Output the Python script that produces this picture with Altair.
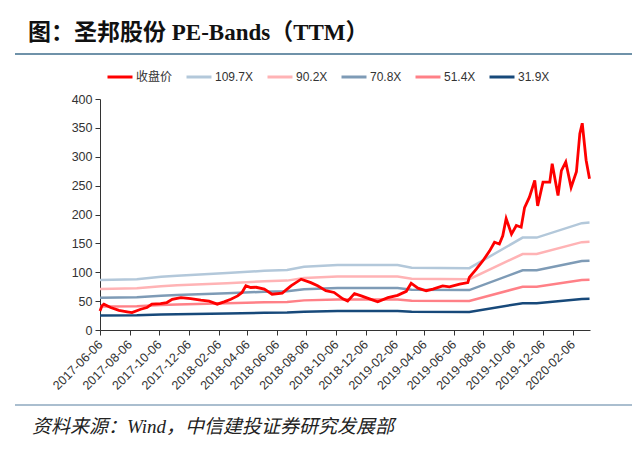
import altair as alt
import pandas as pd

# ---- data ----
price_dates = [
    "2017-06-06", "2017-06-10", "2017-06-14", "2017-06-28", "2017-07-15", "2017-08-01",
    "2017-08-11", "2017-08-29", "2017-09-11", "2017-09-21", "2017-10-09", "2017-10-22",
    "2017-11-02", "2017-11-20", "2017-12-10", "2017-12-31", "2018-01-17", "2018-02-03",
    "2018-02-17", "2018-03-03", "2018-03-17", "2018-03-26", "2018-04-03", "2018-04-13",
    "2018-04-24", "2018-05-11", "2018-05-27", "2018-06-17", "2018-07-05", "2018-07-26",
    "2018-08-15", "2018-08-29", "2018-09-15", "2018-10-02", "2018-10-20", "2018-10-30",
    "2018-11-13", "2018-11-27", "2018-12-17", "2018-12-31", "2019-01-21", "2019-02-10",
    "2019-02-28", "2019-03-10", "2019-03-24", "2019-04-10", "2019-04-24", "2019-05-14",
    "2019-05-28", "2019-06-18", "2019-07-05", "2019-07-08", "2019-07-22", "2019-08-05",
    "2019-08-19", "2019-08-29", "2019-09-08", "2019-09-15", "2019-09-22", "2019-10-03",
    "2019-10-13", "2019-10-23", "2019-10-30", "2019-11-09", "2019-11-20", "2019-11-26",
    "2019-12-07", "2019-12-21", "2019-12-26", "2020-01-07", "2020-01-14", "2020-01-23",
    "2020-02-03", "2020-02-14", "2020-02-21", "2020-02-26", "2020-03-05", "2020-03-12",
]
price_values = [
    33, 42, 44.7, 39, 34, 31.5,
    30, 36, 39, 44.7, 45.8, 47.5,
    53, 56, 54.5, 51.6, 50, 44.7,
    48.7, 53.3, 59, 65, 76.5, 73.6,
    74, 70.7, 62, 64, 76.5, 88,
    82, 76.5, 68, 65, 54, 50,
    63, 59, 53, 49, 56, 60,
    67, 81, 72.5, 68, 70.7, 76.5,
    74.8, 79.5, 82, 91, 105, 120,
    137, 152, 149, 163, 193, 166,
    181, 178, 212, 230, 259, 215,
    256, 256, 288, 233, 276, 291,
    247, 274, 340, 358, 294, 262,
]

band_dates = [
    "2017-06-06", "2017-08-21", "2017-10-10", "2017-11-12", "2018-02-23", "2018-05-11",
    "2018-06-27", "2018-08-01", "2018-10-09", "2019-02-10", "2019-03-11", "2019-07-08",
    "2019-10-26", "2019-11-24", "2020-02-25", "2020-03-12",
]
band_1097 = [86.5, 88, 92, 94, 98.5, 102.5, 104, 109.5, 112.5, 112.5, 108, 107, 160, 160, 185, 186]
band_902 = [71.1, 72.4, 75.6, 77.3, 81.0, 84.3, 85.5, 90.0, 92.5, 92.5, 88.8, 88.0, 131.6, 131.6, 152.1, 152.9]
band_708 = [55.8, 56.8, 59.4, 60.7, 63.6, 66.2, 67.1, 70.7, 72.6, 72.6, 69.7, 69.1, 103.3, 103.3, 119.4, 120.0]
band_514 = [40.5, 41.2, 43.1, 44.0, 46.2, 48.0, 48.7, 51.3, 52.7, 52.7, 50.6, 50.1, 75.0, 75.0, 86.7, 87.2]
band_319 = [25.2, 25.6, 26.8, 27.3, 28.6, 29.8, 30.2, 31.8, 32.7, 32.7, 31.4, 31.1, 46.5, 46.5, 53.8, 54.1]

series_names = ["收盘价", "109.7X", "90.2X", "70.8X", "51.4X", "31.9X"]
series_colors = ["#FF0000", "#B3C8DA", "#FFB3B5", "#7E9BB6", "#FF8087", "#17497A"]

tick_dates = [
    (2017, 6), (2017, 8), (2017, 10), (2017, 12), (2018, 2), (2018, 4), (2018, 6),
    (2018, 8), (2018, 10), (2018, 12), (2019, 2), (2019, 4), (2019, 6), (2019, 8),
    (2019, 10), (2019, 12), (2020, 2),
]

title_text = "图：圣邦股份 PE-Bands（TTM）"
source_text = "资料来源：Wind，中信建投证券研究发展部"

# ---- tables ----
price_df = pd.DataFrame({"date": price_dates, "value": price_values, "series": "收盘价"})
band_frames = []
for name, vals in zip(series_names[1:], [band_1097, band_902, band_708, band_514, band_319]):
    band_frames.append(pd.DataFrame({"date": band_dates, "value": vals, "series": name}))
band_df = pd.concat(band_frames, ignore_index=True)

FONT = "Liberation Sans, Arial, Noto Sans CJK SC"

x_enc = alt.X(
    "date:T",
    scale=alt.Scale(
        type="utc",
        domain=[alt.DateTime(year=2017, month=6, date=6, utc=True),
                alt.DateTime(year=2020, month=3, date=13, utc=True)],
    ),
    axis=alt.Axis(
        title=None,
        values=[alt.DateTime(year=y, month=m, date=6, utc=True) for y, m in tick_dates],
        labelExpr="utcFormat(datum.value, '%Y-%m-%d')",
        labelAngle=-45,
        labelAlign="right",
        labelBaseline="middle",
        labelPadding=7,
        labelFontSize=12.5,
        labelOverlap=False,
        labelFlush=False,
        labelBound=False,
        tickSize=5,
        grid=False,
    ),
)
y_enc = alt.Y(
    "value:Q",
    scale=alt.Scale(domain=[0, 400], nice=False),
    axis=alt.Axis(title=None, values=list(range(0, 401, 50)), tickSize=5,
                  labelPadding=3, labelFontSize=12.5, grid=False),
)
color_enc = alt.Color(
    "series:N",
    scale=alt.Scale(domain=series_names, range=series_colors),
    sort=series_names,
    legend=alt.Legend(
        title=None,
        orient="none",
        direction="horizontal",
        legendX=6,
        legendY=-36,
        symbolType="stroke",
        symbolSize=625,
        symbolStrokeWidth=3,
        labelOffset=2,
        columnPadding=7,
        labelFontSize=12,
        labelFont=FONT,
        labelColor="#333333",
    ),
)

bands = alt.Chart(band_df).mark_line(strokeWidth=2.5).encode(
    x=x_enc, y=y_enc, color=color_enc, detail="series:N"
)
price = alt.Chart(price_df).mark_line(strokeWidth=2.8).encode(
    x=x_enc, y=y_enc, color=color_enc
)

title = alt.Chart(pd.DataFrame({"t": [title_text]})).mark_text(
    align="left", baseline="middle", fontSize=23, fontWeight="bold",
    font="Liberation Serif, Noto Sans CJK SC", color="#111111",
).encode(x=alt.value(-72), y=alt.value(-66), text="t:N")

source = alt.Chart(pd.DataFrame({"t": [source_text]})).mark_text(
    align="left", baseline="middle", fontSize=19, fontStyle="italic",
    font="Liberation Serif, Noto Sans CJK SC", color="#222222",
).encode(x=alt.value(-68), y=alt.value(328), text="t:N")

top_rule = alt.Chart(pd.DataFrame({"a": [0]})).mark_rule(
    color="#3F6E8C", strokeWidth=1.5
).encode(x=alt.value(-85), x2=alt.value(540), y=alt.value(-45))

bottom_rule = alt.Chart(pd.DataFrame({"a": [0]})).mark_rule(
    color="#8EA9BF", strokeWidth=1.5
).encode(x=alt.value(-85), x2=alt.value(540), y=alt.value(306))

chart = alt.layer(bands, price, title, source, top_rule, bottom_rule).properties(
    width=490,
    height=231,
    autosize=alt.AutoSizeParams(type="none"),
    padding={"left": 92, "top": 91, "right": 42, "bottom": 122},
).configure_view(strokeWidth=0).configure_axis(
    domainColor="#333333", tickColor="#333333", labelColor="#333333",
    labelFont=FONT, labelFontSize=12,
)

chart.save("out.html", embed_options={"renderer": "svg", "actions": False})
